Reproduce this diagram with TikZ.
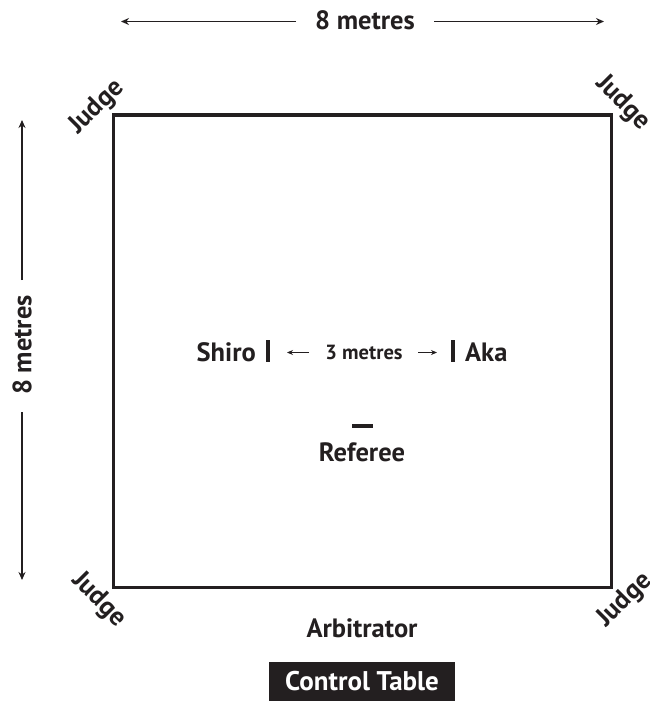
\documentclass[tikz,border=0pt]{standalone}
\usepackage{fontspec}
\setmainfont{PT Sans}
\usetikzlibrary{arrows.meta}
\definecolor{ink}{HTML}{231F20}
\begin{document}
\begin{tikzpicture}[x=1pt,y=-1pt,
  lbl/.style={font=\bfseries\fontsize{26.5}{30}\selectfont, text=ink, inner sep=0pt},
  small/.style={font=\bfseries\fontsize{20.5}{24}\selectfont, text=ink, inner sep=0pt},
  dim/.style={draw=ink, line width=1.1pt, -{Stealth[length=8pt,width=7pt]}},
  sdim/.style={draw=ink, line width=0.9pt, -{Stealth[length=6pt,width=5pt]}},
  ring/.style={draw=ink, line width=3.4pt},
  barline/.style={draw=ink, line width=3.8pt}]
\useasboundingbox (0,0) rectangle (649,701);
% square
\coordinate (c1) at (113.5,115);
\coordinate (c2) at (611.5,115);
\coordinate (c3) at (611.5,587.5);
\coordinate (c4) at (113.5,587.5);
\draw[ring] (c1) -- (c2) -- (c3) -- (c4) -- cycle;
% top dimension
\node[lbl] (top) at (365,20) {8 metres};
\coordinate (tl) at (121,21.5);
\coordinate (tla) at (296,21.5);
\coordinate (tr) at (604,21.5);
\coordinate (tra) at (434,21.5);
\draw[dim] (tla) -- (tl);
\draw[dim] (tra) -- (tr);
% left dimension
\node[lbl, rotate=90] (left) at (22,345) {8 metres};
\coordinate (lt) at (22,120);
\coordinate (lta) at (22,280);
\coordinate (lb) at (22,580);
\coordinate (lba) at (22,412);
\draw[dim] (lta) -- (lt);
\draw[dim] (lba) -- (lb);
% judges
\node[lbl, rotate=45] (j1) at (97,107) {Judge};
\node[lbl, rotate=-45] (j2) at (623,103) {Judge};
\node[lbl, rotate=-45] (j3) at (99,600) {Judge};
\node[lbl, rotate=45] (j4) at (625,600) {Judge};
% center
\node[lbl, anchor=east] (shiro) at (256,352) {Shiro};
\coordinate (sb1) at (268,340);
\coordinate (sb2) at (268,362);
\draw[barline] (sb1) -- (sb2);
\node[small] (three) at (364,352) {3 metres};
\coordinate (la1) at (309,352.5);
\coordinate (la2) at (287,352.5);
\coordinate (ra1) at (418,352.5);
\coordinate (ra2) at (437,352.5);
\draw[sdim] (la1) -- (la2);
\draw[sdim] (ra1) -- (ra2);
\coordinate (ab1) at (453,340);
\coordinate (ab2) at (453,362);
\draw[barline] (ab1) -- (ab2);
\node[lbl, anchor=west] (aka) at (465,352) {Aka};
% referee
\coordinate (rb1) at (352,426);
\coordinate (rb2) at (373,426);
\draw[barline] (rb1) -- (rb2);
\node[lbl] (ref) at (362,452) {Referee};
% arbitrator
\node[lbl] (arb) at (362,628) {Arbitrator};
% control table
\node[fill=ink, text=white, font=\bfseries\fontsize{27}{30}\selectfont, minimum width=186pt, minimum height=39pt, inner sep=0pt] (ct) at (362,681.5) {Control Table};
\end{tikzpicture}
\end{document}
